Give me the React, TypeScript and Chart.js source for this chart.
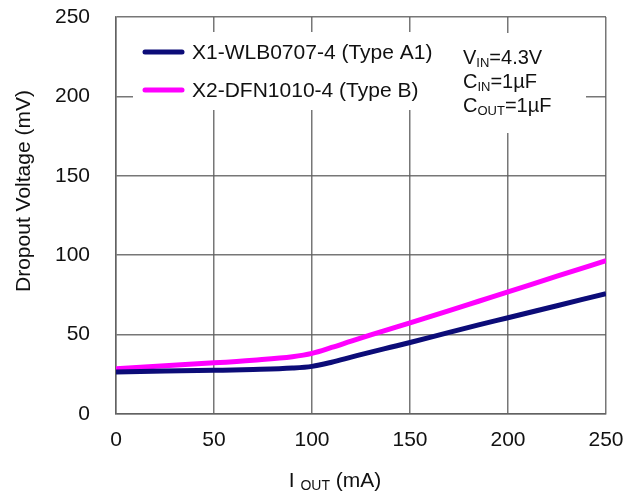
import React, { useEffect, useRef } from "react";
import { Chart, registerables } from "chart.js";

Chart.register(...registerables);

const currentX = [0, 25, 50, 70, 90, 100, 110, 120, 130, 140, 150, 170, 185, 200, 225, 250];
const typeA1 = [26.5, 27, 27.5, 28, 28.9, 30, 32.6, 35.8, 39, 42, 45, 51.4, 56.1, 60.6, 68.2, 75.8];
const typeB = [28.5, 30.4, 32.2, 33.9, 36.1, 38.2, 41.9, 45.9, 49.8, 53.6, 57.4, 65.1, 71, 76.9, 86.8, 96.6];
const seriesLabels = ["X1-WLB0707-4 (Type A1)", "X2-DFN1010-4 (Type B)"];
const seriesColors = ["#0c0c78", "#ff00ff"];
const axisTicks = [0, 50, 100, 150, 200, 250];
const FONT = "'Liberation Sans', Arial, sans-serif";

type Part = [string, number, number];

function partsWidth(ctx: CanvasRenderingContext2D, parts: Part[]) {
  let w = 0;
  for (const [t, size] of parts) {
    ctx.font = `${size}px ${FONT}`;
    w += ctx.measureText(t).width;
  }
  return w;
}

function drawParts(ctx: CanvasRenderingContext2D, x: number, y: number, parts: Part[]) {
  let cx = x;
  for (const [t, size, dy] of parts) {
    ctx.font = `${size}px ${FONT}`;
    ctx.fillText(t, cx, y + dy);
    cx += ctx.measureText(t).width;
  }
}

const overlayPlugin = {
  id: "overlay",
  beforeDatasetsDraw(chart: any) {
    const ctx: CanvasRenderingContext2D = chart.ctx;
    ctx.save();
    ctx.fillStyle = "#ffffff";
    ctx.fillRect(133, 32, 318, 78);
    ctx.fillRect(450, 33, 136, 100);
    // legend
    const ys = [52, 90];
    chart.data.datasets.forEach((ds: any, i: number) => {
      ctx.strokeStyle = ds.borderColor;
      ctx.lineWidth = 5;
      ctx.lineCap = "round";
      ctx.beginPath();
      ctx.moveTo(145, ys[i]);
      ctx.lineTo(182, ys[i]);
      ctx.stroke();
      ctx.fillStyle = "#111";
      ctx.font = `21px ${FONT}`;
      ctx.textBaseline = "middle";
      ctx.textAlign = "left";
      ctx.fillText(ds.label, 192, ys[i] + 1);
    });
    // annotation
    ctx.textBaseline = "alphabetic";
    ctx.fillStyle = "#111";
    drawParts(ctx, 463, 64, [["V", 20, 0], ["IN", 13, 3], ["=4.3V", 20, 0]]);
    drawParts(ctx, 463, 88, [["C", 20, 0], ["IN", 13, 3], ["=1\u00b5F", 20, 0]]);
    drawParts(ctx, 463, 112, [["C", 20, 0], ["OUT", 13, 3], ["=1\u00b5F", 20, 0]]);
    ctx.restore();
  },
  afterDraw(chart: any) {
    const ctx: CanvasRenderingContext2D = chart.ctx;
    ctx.save();
    ctx.fillStyle = "#111";
    ctx.textAlign = "left";
    ctx.textBaseline = "alphabetic";
    const xt: Part[] = [["I ", 21, 0], ["OUT", 14, 3], [" (mA)", 21, 0]];
    const w = partsWidth(ctx, xt);
    drawParts(ctx, 335 - w / 2, 487, xt);
    ctx.translate(24, 191);
    ctx.rotate(-Math.PI / 2);
    ctx.textAlign = "center";
    ctx.textBaseline = "middle";
    ctx.font = `21px ${FONT}`;
    ctx.fillText("Dropout Voltage (mV)", 0, 0);
    ctx.restore();
  },
};

export default function App() {
  const ref = useRef<HTMLCanvasElement>(null);
  useEffect(() => {
    document.body.style.margin = "0";
    const grid = {
      color: "rgba(95,95,95,0.85)",
      lineWidth: 1.5,
      drawTicks: false,
    };
    const border = { color: "rgba(95,95,95,0.85)", width: 1.5 };
    const tickFont = { family: FONT, size: 21 };
    const chart = new Chart(ref.current!, {
      type: "line",
      data: {
        datasets: [
          {
            label: seriesLabels[0],
            data: currentX.map((x, i) => ({ x, y: typeA1[i] })),
            borderColor: seriesColors[0],
            backgroundColor: seriesColors[0],
            borderWidth: 5,
            pointRadius: 0,
            cubicInterpolationMode: "monotone",
          },
          {
            label: seriesLabels[1],
            data: currentX.map((x, i) => ({ x, y: typeB[i] })),
            borderColor: seriesColors[1],
            backgroundColor: seriesColors[1],
            borderWidth: 5,
            pointRadius: 0,
            cubicInterpolationMode: "monotone",
          },
        ],
      },
      options: {
        responsive: false,
        animation: false,
        layout: { padding: { top: 17, right: 32, left: 0, bottom: 0 } },
        plugins: { legend: { display: false }, tooltip: { enabled: false } },
        scales: {
          x: {
            type: "linear",
            min: 0,
            max: 250,
            afterBuildTicks: (s: any) => {
              s.ticks = axisTicks.map((v) => ({ value: v }));
            },
            afterFit: (s: any) => {
              s.height = 79;
              s.paddingLeft = 0;
              s.paddingRight = 0;
            },
            grid,
            border,
            ticks: { font: tickFont, color: "#111", padding: 14, maxRotation: 0 },
          },
          y: {
            type: "linear",
            min: 0,
            max: 250,
            afterBuildTicks: (s: any) => {
              s.ticks = axisTicks.map((v) => ({ value: v }));
            },
            afterFit: (s: any) => {
              s.width = 116;
              s.paddingTop = 0;
              s.paddingBottom = 0;
            },
            grid,
            border,
            ticks: { font: tickFont, color: "#111", padding: 26 },
          },
        },
      } as any,
      plugins: [overlayPlugin],
    });
    return () => chart.destroy();
  }, []);
  return (
    <canvas ref={ref} width={638} height={493} style={{ display: "block", width: 638, height: 493 }} />
  );
}
